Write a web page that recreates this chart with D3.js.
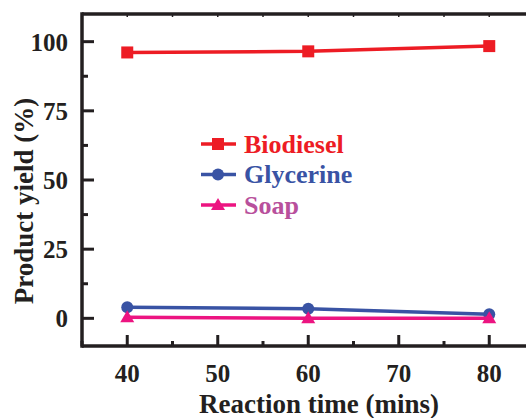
<!DOCTYPE html>
<html>
<head>
<meta charset="utf-8">
<script src="https://cdn.jsdelivr.net/npm/d3@7"></script>
<style>
  body { margin: 0; background: #fff; }
  svg text { font-family: "Liberation Serif", "Times New Roman", serif; font-weight: bold; }
</style>
</head>
<body>
<svg id="chart" width="526" height="418"></svg>
<script>
var times = [40, 60, 80];
var biodiesel = [96.1, 96.5, 98.4];
var glycerine = [4.0, 3.5, 1.5];
var soap = [0.4, 0.0, 0.0];
var xTicks = [40, 50, 60, 70, 80];
var yTicks = [0, 25, 50, 75, 100];

var series = [
  {name: "Biodiesel", values: biodiesel, color: "#ed1c24", text: "#ed1c24", shape: "square"},
  {name: "Glycerine", values: glycerine, color: "#3953a4", text: "#3953a4", shape: "circle"},
  {name: "Soap", values: soap, color: "#ec1481", text: "#b8509c", shape: "triangle"}
];

var svg = d3.select("#chart");
var ink = "#231f20";

// plot box; right side runs past the window like in the source image
var plotLeft = 82, plotTop = 14, plotBottom = 346;
var x = d3.scaleLinear().domain([35, 85]).range([plotLeft, plotLeft + 50 * 9.05]);
var y = d3.scaleLinear().domain([-10, 110]).range([plotBottom, plotTop]);

var g = svg.append("g");

// minor ticks
var xMinor = d3.range(35, 86, 5).filter(function(v) { return xTicks.indexOf(v) < 0; });
var yMinor = d3.range(-12.5, 111, 12.5).filter(function(v) { return v > -10 && v < 110 && yTicks.indexOf(v) < 0; });

g.selectAll(".xmaj").data(xTicks).enter().append("line")
  .attr("x1", function(d) { return x(d); }).attr("x2", function(d) { return x(d); })
  .attr("y1", plotBottom).attr("y2", plotBottom - 11)
  .attr("stroke", ink).attr("stroke-width", 3);
g.selectAll(".xmin").data(xMinor).enter().append("line")
  .attr("x1", function(d) { return x(d); }).attr("x2", function(d) { return x(d); })
  .attr("y1", plotBottom).attr("y2", plotBottom - 5)
  .attr("stroke", ink).attr("stroke-width", 3);
g.selectAll(".xtop").data(d3.range(40, 86, 5)).enter().append("line")
  .attr("x1", function(d) { return x(d); }).attr("x2", function(d) { return x(d); })
  .attr("y1", plotTop).attr("y2", plotTop + 3)
  .attr("stroke", ink).attr("stroke-width", 1.5);

g.selectAll(".ymaj").data(yTicks).enter().append("line")
  .attr("x1", plotLeft).attr("x2", plotLeft + 12)
  .attr("y1", function(d) { return y(d); }).attr("y2", function(d) { return y(d); })
  .attr("stroke", ink).attr("stroke-width", 3);
g.selectAll(".ymin").data(yMinor).enter().append("line")
  .attr("x1", plotLeft).attr("x2", plotLeft + 6)
  .attr("y1", function(d) { return y(d); }).attr("y2", function(d) { return y(d); })
  .attr("stroke", ink).attr("stroke-width", 3);

// axis lines
g.append("line").attr("x1", plotLeft).attr("x2", 526).attr("y1", plotBottom).attr("y2", plotBottom)
  .attr("stroke", ink).attr("stroke-width", 3.5);
g.append("line").attr("x1", plotLeft).attr("x2", 526).attr("y1", plotTop).attr("y2", plotTop)
  .attr("stroke", ink).attr("stroke-width", 3.5);
g.append("line").attr("x1", plotLeft).attr("x2", plotLeft).attr("y1", plotTop - 1.75).attr("y2", plotBottom + 1.75)
  .attr("stroke", ink).attr("stroke-width", 3.5);

// tick labels
g.selectAll(".xl").data(xTicks).enter().append("text")
  .attr("x", function(d) { return x(d); }).attr("y", 382)
  .attr("text-anchor", "middle").attr("font-size", 25).attr("fill", ink)
  .text(function(d) { return d; });
g.selectAll(".yl").data(yTicks).enter().append("text")
  .attr("x", 68).attr("y", function(d) { return y(d) + 9; })
  .attr("text-anchor", "end").attr("font-size", 25).attr("fill", ink)
  .text(function(d) { return d; });

// axis titles
svg.append("text").attr("x", 319).attr("y", 413)
  .attr("text-anchor", "middle").attr("font-size", 27).attr("fill", ink)
  .text("Reaction time (mins)");
svg.append("text").attr("transform", "translate(33,201) rotate(-90)")
  .attr("text-anchor", "middle").attr("font-size", 27).attr("fill", ink)
  .text("Product yield (%)");

function drawMarker(sel, shape, color) {
  if (shape === "square") {
    sel.append("rect").attr("x", -6).attr("y", -6).attr("width", 12).attr("height", 12).attr("fill", color);
  } else if (shape === "circle") {
    sel.append("circle").attr("r", 6).attr("fill", color);
  } else {
    sel.append("path").attr("d", "M0,-7L7,5L-7,5Z").attr("fill", color);
  }
}

var line = d3.line()
  .x(function(d, i) { return x(times[i]); })
  .y(function(d) { return y(d); });

series.forEach(function(s) {
  g.append("path").datum(s.values)
    .attr("d", line).attr("fill", "none")
    .attr("stroke", s.color).attr("stroke-width", 3.5);
  s.values.forEach(function(v, i) {
    var m = g.append("g").attr("transform", "translate(" + x(times[i]) + "," + y(v) + ")");
    drawMarker(m, s.shape, s.color);
  });
});

// legend
var legend = svg.append("g");
series.forEach(function(s, i) {
  var ly = 144 + i * 30.5;
  legend.append("line").attr("x1", 201).attr("x2", 236).attr("y1", ly).attr("y2", ly)
    .attr("stroke", s.color).attr("stroke-width", 3.5);
  var m = legend.append("g").attr("transform", "translate(218," + ly + ")");
  drawMarker(m, s.shape, s.color);
  legend.append("text").attr("x", 244).attr("y", ly + 8.5)
    .attr("font-size", 26).attr("fill", s.text).text(s.name);
});
</script>
</body>
</html>
